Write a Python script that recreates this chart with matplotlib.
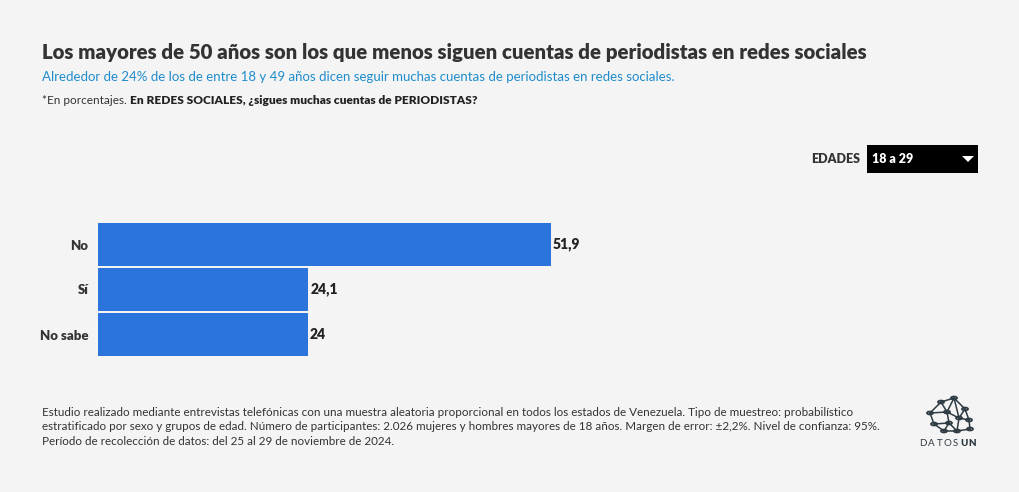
import matplotlib
matplotlib.use("Agg")
import matplotlib.pyplot as plt
from matplotlib.patches import Rectangle, Polygon, Circle
from matplotlib.lines import Line2D

plt.rcParams['font.family'] = ['Lato', 'DejaVu Sans']

categories = ["No", "Sí", "No sabe"]
values = [51.9, 24.1, 24.0]
value_labels = ["51,9", "24,1", "24"]

title = "Los mayores de 50 años son los que menos siguen cuentas de periodistas en redes sociales"
subtitle = "Alrededor de 24% de los de entre 18 y 49 años dicen seguir muchas cuentas de periodistas en redes sociales."
note_plain = "*En porcentajes. "
note_bold = "En REDES SOCIALES, ¿sigues muchas cuentas de PERIODISTAS?"
footer = ("Estudio realizado mediante entrevistas telefónicas con una muestra aleatoria proporcional en todos los estados de Venezuela. Tipo de muestreo: probabilístico\n"
          "estratificado por sexo y grupos de edad. Número de participantes: 2.026 mujeres y hombres mayores de 18 años. Margen de error: ±2,2%. Nivel de confianza: 95%.\n"
          "Período de recolección de datos: del 25 al 29 de noviembre de 2024.")

W, H = 1020, 492
BG = "#f4f4f4"
BAR = "#2b74dc"
DARK = "#333333"

fig = plt.figure(figsize=(W/100, H/100), dpi=100, facecolor=BG)

def fx(px): return px / W
def fy(py): return 1 - py / H

# Title block
fig.text(fx(42), fy(53), title, fontsize=14.65, fontweight='heavy', color=DARK, va='center', ha='left')
fig.text(fx(42), fy(77), subtitle, fontsize=9.5, color="#1f8ccc", va='center', ha='left')
t1 = fig.text(fx(42), fy(100), note_plain, fontsize=8.5, color=DARK, va='center', ha='left')
fig.canvas.draw()
bb = t1.get_window_extent()
fig.text(bb.x1 / W, fy(100), note_bold, fontsize=8.6, fontweight='heavy', color="#222222", va='center', ha='left')

# Dropdown
fig.text(fx(860), fy(159), "EDADES", fontsize=9, fontweight='heavy', color=DARK, va='center', ha='right')
fig.patches.append(Rectangle((fx(867), fy(173)), fx(978) - fx(867), fy(145) - fy(173),
                             transform=fig.transFigure, facecolor='black', edgecolor='none'))
fig.text(fx(872), fy(159), "18 a 29", fontsize=9, fontweight='heavy', color='white', va='center', ha='left')
fig.patches.append(Polygon([(fx(962), fy(156)), (fx(974), fy(156)), (fx(968), fy(162))],
                           closed=True, transform=fig.transFigure, facecolor='white', edgecolor='none'))

# Bars
ax = fig.add_axes([fx(98), fy(357), fx(971) - fx(98), fy(222) - fy(357)])
ax.set_facecolor('none')
y = list(range(len(categories)))
ax.barh(y, values, height=0.94, color=BAR, edgecolor='none')
ax.set_xlim(0, 100)
ax.set_ylim(len(categories) - 0.5, -0.5)
ax.set_yticks(y)
ax.set_yticklabels(categories, fontsize=9.5, fontweight='heavy', color=DARK)
ax.tick_params(axis='y', length=0, pad=7)
ax.set_xticks([])
for s in ax.spines.values():
    s.set_visible(False)
for yi, v, lab in zip(y, values, value_labels):
    ax.text(v + 0.2, yi, lab, va='center', ha='left', fontsize=10, fontweight='heavy', color="#222222")

# Footer
fig.text(fx(42), fy(427), footer, fontsize=8.35, color=DARK, va='center', ha='left', linespacing=1.4)

# Logo (decorative)
nodes = [(941, 402), (954, 398), (930, 413), (947, 412), (965, 409), (934, 424), (949, 423), (959, 418),
         (969, 420), (944, 431), (957, 431), (970, 429)]
edges = [(0, 1), (0, 2), (0, 3), (1, 3), (1, 4), (2, 3), (2, 5), (3, 6), (3, 7), (4, 7), (4, 8), (5, 6),
         (5, 9), (6, 9), (6, 10), (7, 10), (7, 8), (8, 11), (10, 11), (9, 10), (1, 7)]
for a, b in edges:
    fig.lines.append(Line2D([fx(nodes[a][0]), fx(nodes[b][0])], [fy(nodes[a][1]), fy(nodes[b][1])],
                            transform=fig.transFigure, color="#2e3b43", lw=1.1))
for (nx, ny) in nodes:
    fig.patches.append(Circle((fx(nx), fy(ny)), 3.0 / W, transform=fig.transFigure,
                              facecolor=BG, edgecolor="#2e3b43", lw=1.3))
logo_letters = ["D", "A", "T", "O", "S", "U", "N"]
for i, ch in enumerate(logo_letters):
    fig.text(fx(923 + i * 8.2), fy(443), ch, fontsize=7, color="#2e3b43", va='center', ha='center',
             fontweight='heavy' if i >= 5 else 'normal')

fig.savefig("out.png", dpi=100, facecolor=BG)
